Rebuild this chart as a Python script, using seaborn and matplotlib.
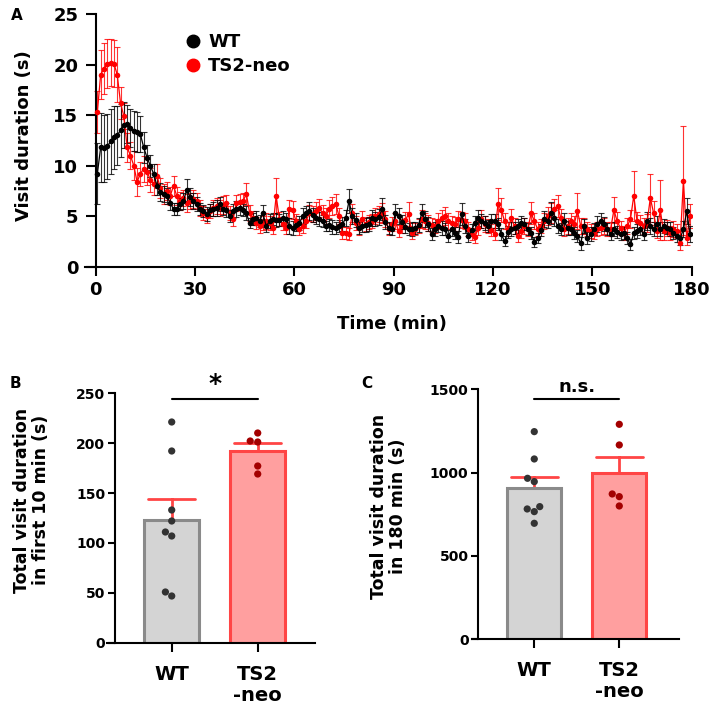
import numpy as np
import pandas as pd
import matplotlib
matplotlib.use("Agg")
import matplotlib.pyplot as plt
from matplotlib.lines import Line2D
import seaborn as sns

# ---------------- data ----------------
time_min = np.arange(0.5, 180.0, 1.0)

wt_mean = [
    9.2, 11.8, 11.7, 11.9, 12.4, 12.8, 13.0, 13.5, 14.0, 14.1,
    13.7, 13.4, 13.3, 13.1, 11.8, 10.8, 10.0, 9.2, 8.0, 7.4,
    7.2, 7.0, 6.3, 5.7, 5.7, 6.2, 6.5, 7.6, 6.9, 6.5,
    6.2, 5.7, 5.5, 5.2, 5.6, 5.7, 5.8, 6.2, 5.7, 5.6,
    5.0, 5.5, 5.7, 5.8, 5.6, 5.3, 4.3, 4.7, 4.8, 4.5,
    5.3, 4.0, 4.5, 4.7, 4.6, 4.6, 4.8, 4.7, 4.0, 3.8,
    4.1, 4.3, 5.0, 5.3, 5.5, 5.1, 4.8, 4.7, 4.5, 4.0,
    4.1, 3.9, 3.8, 4.0, 4.2, 4.8, 6.5, 5.0, 4.6, 3.8,
    4.0, 4.1, 4.2, 4.8, 4.7, 4.9, 5.7, 4.4, 3.8, 3.7,
    5.3, 5.0, 4.4, 3.9, 3.7, 3.7, 3.8, 4.1, 5.3, 4.7,
    4.2, 3.2, 3.7, 4.0, 3.8, 3.7, 3.0, 3.7, 3.3, 2.9,
    5.2, 4.0, 3.0, 3.6, 4.3, 4.8, 4.5, 4.3, 4.0, 4.5,
    4.5, 4.2, 3.2, 2.5, 3.4, 3.7, 3.8, 4.0, 4.3, 4.2,
    3.7, 3.3, 2.4, 2.8, 3.6, 4.7, 4.5, 5.3, 4.8, 4.0,
    3.7, 4.5, 3.8, 3.7, 3.3, 3.0, 2.3, 4.0, 2.8, 3.2,
    3.7, 4.2, 4.5, 4.2, 3.7, 3.2, 3.7, 3.4, 3.2, 3.3,
    2.8, 2.2, 3.3, 3.5, 3.7, 3.2, 4.5, 4.0, 3.7, 4.2,
    3.7, 4.0, 3.8, 3.7, 3.3, 3.0, 2.8, 3.7, 5.5, 3.2,
]
wt_sem = [
    3.0, 3.4, 3.3, 3.2, 3.2, 3.1, 2.9, 2.6, 2.3, 1.9,
    1.9, 2.0, 2.0, 1.8, 1.5, 1.2, 1.1, 1.0, 0.9, 0.9,
    0.8, 0.8, 0.7, 0.6, 0.6, 0.6, 0.8, 1.1, 0.9, 0.8,
    0.7, 0.6, 0.6, 0.7, 0.6, 0.7, 0.8, 0.7, 0.6, 0.7,
    0.6, 0.7, 0.8, 0.7, 0.6, 0.7, 0.5, 0.6, 0.7, 0.6,
    0.8, 0.6, 0.7, 0.6, 0.7, 0.6, 0.7, 0.6, 0.8, 0.7,
    0.6, 0.7, 0.8, 0.7, 0.9, 0.7, 0.6, 0.7, 0.6, 0.5,
    0.6, 0.7, 0.6, 0.6, 0.7, 0.8, 1.2, 0.8, 0.7, 0.6,
    0.6, 0.7, 0.7, 0.8, 0.7, 0.8, 1.1, 0.7, 0.6, 0.6,
    0.9, 0.8, 0.7, 0.6, 0.6, 0.7, 0.6, 0.7, 0.9, 0.8,
    0.7, 0.6, 0.7, 0.6, 0.7, 0.6, 0.6, 0.7, 0.6, 0.6,
    1.1, 0.7, 0.6, 0.6, 0.7, 0.8, 0.7, 0.7, 0.6, 0.7,
    0.7, 0.6, 0.6, 0.5, 0.6, 0.7, 0.6, 0.7, 0.7, 0.6,
    0.6, 0.6, 0.5, 0.5, 0.6, 0.8, 0.7, 1.1, 0.8, 0.7,
    0.6, 0.8, 0.7, 0.6, 0.6, 0.6, 0.6, 0.7, 0.6, 0.7,
    0.6, 0.8, 0.8, 0.7, 0.6, 0.6, 0.7, 0.6, 0.6, 0.6,
    0.6, 0.5, 0.6, 0.7, 0.6, 0.6, 0.9, 0.8, 0.7, 0.8,
    0.7, 0.7, 0.6, 0.7, 0.6, 0.6, 0.7, 0.8, 1.3, 0.8,
]
ts2_mean = [
    15.3, 19.0, 19.6, 20.1, 20.2, 20.1, 19.0, 16.2, 14.9, 11.8,
    11.0, 10.0, 8.4, 9.2, 9.7, 9.4, 8.6, 8.2, 9.0, 7.8,
    7.2, 7.5, 7.0, 8.0, 7.0, 6.5, 6.8, 6.3, 6.5, 6.7,
    6.5, 5.8, 5.3, 5.0, 5.5, 5.8, 6.0, 5.8, 6.1, 6.3,
    5.3, 4.7, 6.3, 6.4, 6.5, 7.2, 5.3, 4.8, 4.3, 4.0,
    4.3, 4.5, 4.3, 3.8, 7.0, 4.7, 4.2, 3.8, 5.7, 5.6,
    4.5, 3.7, 4.0, 4.5, 5.3, 5.2, 5.5, 5.8, 5.3, 5.0,
    5.7, 6.0, 6.2, 5.0, 3.3, 3.3, 3.2, 5.3, 4.3, 3.8,
    4.7, 4.2, 4.4, 4.5, 5.0, 5.2, 5.3, 4.7, 3.7, 4.2,
    4.5, 3.5, 4.0, 4.6, 5.2, 3.3, 3.7, 4.0, 4.7, 4.5,
    4.3, 4.1, 4.0, 4.5, 4.8, 5.0, 4.5, 4.3, 4.2, 4.7,
    4.6, 4.5, 3.7, 3.2, 2.9, 3.8, 4.7, 4.2, 4.0, 3.6,
    3.2, 6.2, 5.6, 4.5, 3.7, 4.8, 4.0, 3.0, 3.5, 4.0,
    3.7, 5.3, 4.5, 3.7, 4.0, 4.5, 5.0, 5.3, 5.7, 6.0,
    4.8, 3.7, 4.0, 4.5, 4.2, 5.5, 4.0, 4.0, 3.7, 3.5,
    3.3, 3.7, 3.8, 4.0, 3.7, 3.7, 5.6, 4.5, 3.8, 3.3,
    4.0, 4.7, 7.0, 4.5, 4.3, 4.0, 4.3, 6.8, 5.3, 3.5,
    5.6, 3.5, 3.8, 3.3, 3.7, 3.5, 2.3, 8.5, 2.8, 5.0,
]
ts2_sem = [
    2.1, 2.4, 2.5, 2.4, 2.3, 2.3, 2.7, 1.6, 1.3, 1.4,
    1.3, 1.4, 1.4, 1.2, 1.3, 1.3, 1.2, 1.1, 1.2, 1.0,
    1.0, 0.9, 0.9, 1.0, 0.9, 0.9, 0.8, 0.9, 0.8, 0.9,
    0.8, 0.8, 0.7, 0.7, 0.7, 0.8, 0.8, 0.8, 0.9, 0.8,
    0.7, 0.7, 0.8, 0.8, 0.8, 1.1, 0.8, 0.7, 0.6, 0.7,
    0.7, 0.8, 0.7, 0.6, 1.8, 0.7, 0.6, 0.6, 0.9, 0.9,
    0.7, 0.6, 0.7, 0.7, 0.8, 0.8, 0.9, 0.9, 0.8, 0.8,
    0.9, 0.9, 1.0, 0.8, 0.6, 0.6, 0.6, 0.9, 0.7, 0.7,
    0.8, 0.7, 0.7, 0.7, 0.8, 0.8, 1.0, 0.8, 0.6, 0.7,
    0.8, 0.6, 0.7, 0.8, 1.2, 0.6, 0.6, 0.7, 0.9, 0.8,
    0.8, 0.7, 0.7, 0.8, 0.8, 0.9, 0.8, 0.7, 0.7, 0.8,
    0.8, 0.8, 0.7, 0.6, 0.6, 0.7, 0.9, 0.8, 0.7, 0.6,
    0.6, 1.6, 1.2, 0.8, 0.7, 0.9, 0.8, 0.6, 0.7, 0.8,
    0.7, 1.1, 0.8, 0.7, 0.7, 0.8, 0.9, 1.0, 1.0, 1.1,
    0.9, 0.7, 0.8, 0.8, 0.8, 1.8, 0.8, 0.8, 0.7, 0.7,
    0.6, 0.7, 0.7, 0.8, 0.7, 0.7, 1.3, 0.9, 0.7, 0.7,
    0.8, 0.9, 2.5, 0.9, 0.8, 0.8, 0.9, 2.4, 1.2, 0.7,
    3.0, 0.9, 0.8, 0.7, 0.8, 0.7, 0.6, 5.4, 0.7, 1.2,
]

groups = ["WT", "TS2-neo"]
group_ticklabels = ["WT", "TS2\n-neo"]
first10_wt = [221, 192, 133, 122, 111, 107, 47, 51]
first10_ts2 = [210, 201, 202, 177, 169]
total180_wt = [1246, 1082, 946, 966, 782, 766, 796, 696]
total180_ts2 = [1290, 1166, 872, 856, 800]

# ---------------- style ----------------
sns.set_style("ticks")
plt.rcParams["font.family"] = ["DejaVu Sans"]
plt.rcParams["font.weight"] = "bold"
plt.rcParams["axes.labelweight"] = "bold"
for key in ["text.color", "axes.labelcolor", "xtick.color", "ytick.color",
            "axes.edgecolor"]:
    plt.rcParams[key] = "black"

W, H = 709, 714
fig = plt.figure(figsize=(W / 100, H / 100), dpi=100)


def fig_rect(x0, y_top, x1, y_bot):
    return [x0 / W, 1 - y_bot / H, (x1 - x0) / W, (y_bot - y_top) / H]


BLACK = "#000000"
RED = "#ff0000"

# ---------------- Panel A ----------------
axA = fig.add_axes(fig_rect(85, 14, 691.7, 266.7))
for mean, sem, col in [(ts2_mean, ts2_sem, RED), (wt_mean, wt_sem, BLACK)]:
    axA.errorbar(time_min, mean, yerr=sem, fmt="none", ecolor=col,
                 elinewidth=0.8, capsize=2.0, capthick=0.8, alpha=0.8, zorder=2)
    sns.lineplot(x=time_min, y=mean, color=col, marker="o", markersize=4,
                 markeredgewidth=0, linewidth=0.9, ax=axA, zorder=3)

axA.set_xlim(-3.23, 180)
axA.set_ylim(0, 25)
axA.set_xticks([0, 30, 60, 90, 120, 150, 180])
axA.set_yticks([0, 5, 10, 15, 20, 25])
axA.spines["top"].set_visible(False)
axA.spines["right"].set_visible(False)
axA.spines["left"].set_position(("data", 0))
for s in ["left", "bottom"]:
    axA.spines[s].set_linewidth(1.5)
axA.tick_params(axis="both", width=1.5, labelsize=13, colors="black")
axA.tick_params(axis="y", length=7.5, pad=5)
axA.tick_params(axis="x", length=6.5, pad=4)
for lab in axA.get_xticklabels() + axA.get_yticklabels():
    lab.set_fontweight("bold")
axA.set_xlabel("Time (min)", fontsize=13, fontweight="bold", color="black")
axA.set_ylabel("Visit duration (s)", fontsize=13, fontweight="bold", color="black")
axA.xaxis.set_label_coords(0.506, -0.19)
axA.yaxis.set_label_coords(-0.085, 0.52)

handles = [Line2D([], [], marker="o", color=BLACK, linestyle="none", markersize=9),
           Line2D([], [], marker="o", color=RED, linestyle="none", markersize=9)]
axA.legend(handles, ["WT", "TS2-neo"], loc="upper left",
           bbox_to_anchor=(0.163, 0.925), frameon=False, handlelength=1.0,
           handletextpad=0.35, labelspacing=0.35, borderpad=0, borderaxespad=0,
           prop={"size": 13, "weight": "bold"})

# ---------------- Panels B & C ----------------
bar_face = {"WT": "#d4d4d4", "TS2-neo": "#ff9f9f"}
bar_edge = {"WT": "#8a8a8a", "TS2-neo": "#ff4545"}
dot_col = {"WT": "#333333", "TS2-neo": "#a30000"}


def bar_panel(rect, wt_vals, ts2_vals, ymax, yticks, xlim, spine_x, ylabel,
              sig_y, sig_text, sig_size, label_xy):
    ax = fig.add_axes(rect)
    df = pd.DataFrame({
        "group": ["WT"] * len(wt_vals) + ["TS2-neo"] * len(ts2_vals),
        "value": list(wt_vals) + list(ts2_vals),
    })
    sns.barplot(data=df, x="group", y="value", hue="group", order=groups,
                hue_order=groups, palette=bar_face, legend=False, saturation=1,
                errorbar=("se", 1), capsize=0.55, width=0.64, linewidth=2.2,
                err_kws={"linewidth": 2.0, "zorder": 0.5}, ax=ax)
    for p in ax.patches:
        cx = p.get_x() + p.get_width() / 2
        p.set_edgecolor(bar_edge["WT"] if cx < 0.5 else bar_edge["TS2-neo"])
        p.set_zorder(1)
    for ln in ax.lines:
        xd = np.asarray(ln.get_xdata(), dtype=float)
        ln.set_color(bar_edge["WT"] if xd.mean() < 0.5 else bar_edge["TS2-neo"])
        ln.set_zorder(0.5)
    sns.swarmplot(data=df, x="group", y="value", hue="group", order=groups,
                  hue_order=groups, palette=dot_col, legend=False, size=5.2,
                  ax=ax, zorder=4)
    ax.set_xlim(*xlim)
    ax.set_ylim(0, ymax)
    ax.set_yticks(yticks)
    ax.set_xticks([0, 1])
    ax.set_xticklabels(group_ticklabels, fontsize=14, fontweight="bold",
                       linespacing=1.15, color="black")
    for lab in ax.get_yticklabels():
        lab.set_fontsize(8)
        lab.set_fontweight("bold")
        lab.set_color("black")
    ax.spines["top"].set_visible(False)
    ax.spines["right"].set_visible(False)
    ax.spines["left"].set_position(("data", spine_x))
    for s in ["left", "bottom"]:
        ax.spines[s].set_linewidth(1.5)
        ax.spines[s].set_color("black")
    ax.tick_params(axis="y", length=5, width=1.5, pad=2, colors="black")
    ax.tick_params(axis="x", length=6.5, width=1.5, pad=9, colors="black")
    ax.set_xlabel("")
    ax.set_ylabel(ylabel, fontsize=12.5, fontweight="bold", linespacing=1.05,
                  color="black")
    ax.yaxis.set_label_coords(*label_xy)
    ax.plot([0, 1], [sig_y, sig_y], color="black", lw=1.5, clip_on=False)
    ax.text(0.5, sig_y + ymax * 0.012, sig_text, ha="center", va="bottom",
            fontsize=sig_size, fontweight="bold", color="black")
    return ax


bar_panel(fig_rect(106.7, 393, 315, 643), first10_wt, first10_ts2, 250,
          [0, 50, 100, 150, 200, 250], (-0.756, 1.666), -0.66,
          "Total visit duration\nin first 10 min (s)", 244, "*", 18,
          (-0.272, 0.572))
bar_panel(fig_rect(471.7, 389.3, 679.3, 639.3), total180_wt, total180_ts2, 1500,
          [0, 500, 1000, 1500], (-0.736, 1.706), -0.659,
          "Total visit duration\nin 180 min (s)", 1440, "n.s.", 13,
          (-0.312, 0.533))

# panel letters
for letter, (x, y) in {"A": (17, 15), "B": (15, 383), "C": (367, 383)}.items():
    fig.text(x / W, 1 - y / H, letter, ha="center", va="center",
             fontsize=11, fontweight="bold", color="black")

fig.savefig("out.png", dpi=100)
